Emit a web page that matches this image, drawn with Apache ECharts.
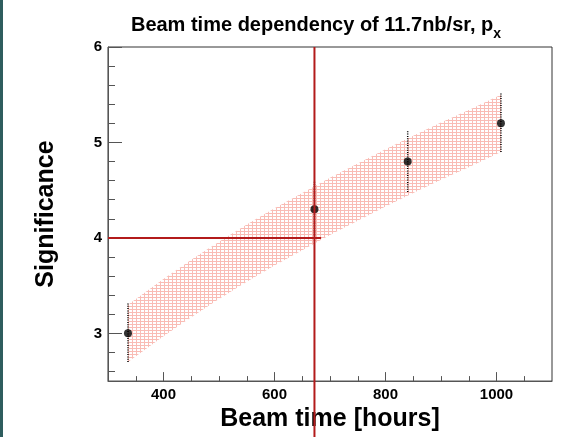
<!DOCTYPE html>
<html>
<head>
<meta charset="utf-8">
<script src="https://cdn.jsdelivr.net/npm/echarts@6/dist/echarts.min.js"></script>
<style>
  html, body { margin: 0; padding: 0; background: #fff; }
  #bar { position: absolute; left: 0; top: 0; width: 3px; height: 437px; background: #2e5d5e; }
  #chart { width: 564px; height: 437px; }
</style>
</head>
<body>
<div id="bar"></div>
<div id="chart"></div>
<script>
// measured points (beam time in hours, significance)
const beamTime = [336, 672, 840, 1008];
const significance = [3.0, 4.3, 4.8, 5.2];
const errLow = [2.7, 4.0, 4.48, 4.9];
const errHigh = [3.32, 4.6, 5.12, 5.52];

// expected band (read along the hatched region)
const bandX = [336, 400, 450, 500, 550, 600, 650, 700, 750, 800, 850, 900, 950, 1008];
const bandLow = [2.7, 2.97, 3.17, 3.36, 3.54, 3.71, 3.87, 4.03, 4.18, 4.33, 4.47, 4.61, 4.74, 4.9];
const bandHigh = [3.3, 3.57, 3.77, 3.96, 4.14, 4.31, 4.47, 4.63, 4.78, 4.93, 5.07, 5.21, 5.34, 5.5];

// reference lines
const refTime = 672;
const refSignif = 4;
const refHLineEnd = 684;

// axis ticks
const xTicks = [400, 600, 800, 1000];
const xMinorTicks = [350, 450, 500, 550, 650, 700, 750, 850, 900, 950, 1050];
const yTicks = [3, 4, 5, 6];
const yMinorTicks = [2.6, 2.8, 3.2, 3.4, 3.6, 3.8, 4.2, 4.4, 4.6, 4.8, 5.2, 5.4, 5.6, 5.8];

// hatch pattern for the band
const hatch = document.createElement("canvas");
hatch.width = 4;
hatch.height = 3;
const hctx = hatch.getContext("2d");
hctx.fillStyle = "#f9bcb5";
hctx.fillRect(0, 0, 4, 1);
hctx.fillRect(0, 0, 1, 3);

const font = "Liberation Sans";
const red = "#b31b1b";

const chart = echarts.init(document.getElementById("chart"));

const tickLabel = {
  fontFamily: font,
  fontWeight: "bold",
  fontSize: 15,
  color: "#000",
  formatter: (v) => String(v),
};

const option = {
  animation: false,
  title: {
    text: "Beam time dependency of 11.7nb/sr, p{sub|x}",
    left: 311,
    textAlign: "center",
    top: 5,
    textStyle: {
      fontFamily: font,
      fontWeight: "bold",
      fontSize: 20,
      color: "#000",
      rich: {
        sub: { fontFamily: font, fontWeight: "bold", fontSize: 14, verticalAlign: "bottom", padding: [17, 0, 0, 0] },
      },
    },
  },
  grid: {
    left: 108,
    right: 12,
    top: 47,
    bottom: 53,
    show: true,
    borderColor: "#333",
    borderWidth: 1,
  },
  xAxis: [
    {
      type: "value",
      min: 300,
      max: 1100,
      name: "Beam time [hours]",
      nameLocation: "middle",
      nameGap: 21,
      nameTextStyle: { fontFamily: font, fontWeight: "bold", fontSize: 25, color: "#000" },
      axisLine: { show: true, lineStyle: { color: "#555", width: 1 } },
      axisTick: { inside: true, length: 9, customValues: xTicks, lineStyle: { color: "#555" } },
      axisLabel: { ...tickLabel, margin: 6, customValues: xTicks },
      splitLine: { show: false },
    },
    {
      type: "value",
      min: 300,
      max: 1100,
      position: "bottom",
      axisLine: { show: false },
      axisTick: { show: true, inside: true, length: 5, customValues: xMinorTicks, lineStyle: { color: "#555" } },
      axisLabel: { show: false },
      splitLine: { show: false },
    },
  ],
  yAxis: [
    {
      type: "value",
      min: 2.5,
      max: 6,
      name: "Significance",
      nameLocation: "middle",
      nameRotate: 90,
      nameGap: 49,
      nameTextStyle: { fontFamily: font, fontWeight: "bold", fontSize: 25, color: "#000" },
      axisLine: { show: true, lineStyle: { color: "#555", width: 1 } },
      axisTick: { inside: true, length: 14, customValues: yTicks, lineStyle: { color: "#555" } },
      axisLabel: { ...tickLabel, margin: 6, customValues: yTicks },
      splitLine: { show: false },
    },
    {
      type: "value",
      min: 2.5,
      max: 6,
      position: "left",
      axisLine: { show: false },
      axisTick: { show: true, inside: true, length: 7, customValues: yMinorTicks, lineStyle: { color: "#555" } },
      axisLabel: { show: false },
      splitLine: { show: false },
    },
  ],
  series: [
    {
      name: "band",
      type: "custom",
      data: bandX.map((x, i) => [x, bandLow[i], bandHigh[i]]),
      renderItem: (params, api) => {
        if (params.dataIndex !== 0) return;
        const upper = bandX.map((x, i) => api.coord([x, bandHigh[i]]));
        const lower = bandX.map((x, i) => api.coord([x, bandLow[i]])).reverse();
        return {
          type: "polygon",
          shape: { points: upper.concat(lower) },
          style: { fill: { image: hatch, repeat: "repeat" }, stroke: null },
        };
      },
      z: 2,
    },
    {
      name: "errors",
      type: "custom",
      data: beamTime.map((x, i) => [x, errLow[i], errHigh[i]]),
      renderItem: (params, api) => {
        const lo = api.coord([api.value(0), api.value(1)]);
        const hi = api.coord([api.value(0), api.value(2)]);
        return {
          type: "line",
          shape: { x1: lo[0], y1: lo[1], x2: hi[0], y2: hi[1] },
          style: { stroke: "#000", lineWidth: 1.5, lineDash: [1, 1.3] },
        };
      },
      z: 3,
    },
    {
      name: "points",
      type: "scatter",
      data: beamTime.map((x, i) => [x, significance[i]]),
      symbol: "circle",
      symbolSize: 8,
      itemStyle: { color: "#000" },
      z: 4,
    },
    {
      name: "reference",
      type: "custom",
      clip: false,
      data: [[refTime, refSignif]],
      renderItem: (params, api) => {
        const top = api.coord([refTime, 6]);
        const hStart = api.coord([300, refSignif]);
        const hEnd = api.coord([refHLineEnd, refSignif]);
        return {
          type: "group",
          children: [
            {
              type: "line",
              shape: { x1: top[0], y1: top[1], x2: top[0], y2: api.getHeight() },
              style: { stroke: red, lineWidth: 2 },
            },
            {
              type: "line",
              shape: { x1: hStart[0], y1: hStart[1], x2: hEnd[0], y2: hEnd[1] },
              style: { stroke: red, lineWidth: 2 },
            },
          ],
        };
      },
      z: 10,
    },
  ],
};

chart.setOption(option);
</script>
</body>
</html>
